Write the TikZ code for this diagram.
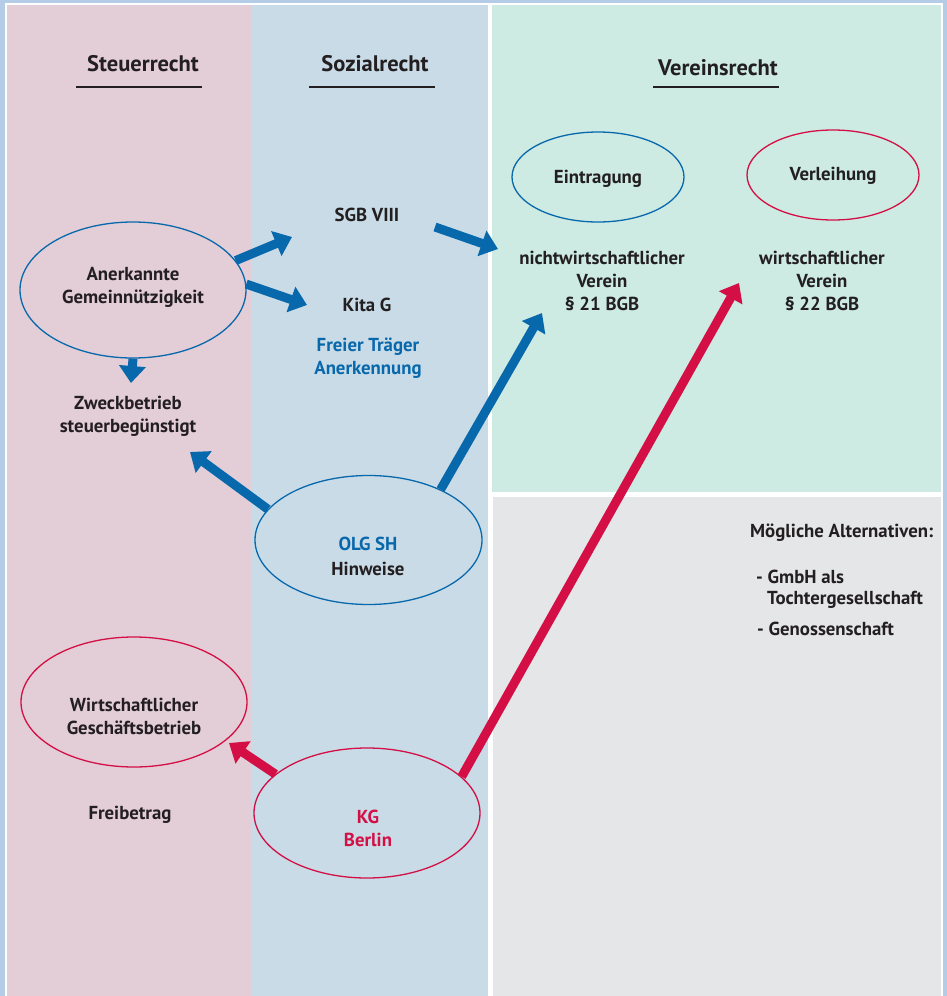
\documentclass[tikz,border=0pt]{standalone}
\usepackage{fontspec}
\setmainfont{PT Sans}
\usetikzlibrary{arrows.meta,shapes.geometric}
\definecolor{pinkbg}{HTML}{E3CDD7}
\definecolor{bluebg}{HTML}{C9DBE7}
\definecolor{greenbg}{HTML}{CDEBE3}
\definecolor{graybg}{HTML}{E5E6E8}
\definecolor{framecol}{HTML}{B5CCE6}
\definecolor{myblue}{HTML}{0868AC}
\definecolor{myred}{HTML}{D30F45}
\definecolor{ink}{HTML}{231F20}
\tikzset{
  txt/.style={font=\bfseries\fontsize{18.8}{23}\selectfont, text=ink, align=center, inner sep=0pt},
  head/.style={font=\bfseries\fontsize{22.5}{25}\selectfont, text=ink, inner sep=0pt},
  ul/.style={draw=ink, line width=1.4pt},
  ellb/.style={ellipse, draw=myblue, line width=1.3pt, inner sep=0pt},
  ellr/.style={ellipse, draw=myred, line width=1.3pt, inner sep=0pt},
  barrow/.style={draw=myblue, line width=9pt, -{Triangle[length=17pt,width=26pt]}},
  rarrow/.style={draw=myred, line width=9pt, -{Triangle[length=17pt,width=26pt]}},
}
\begin{document}
\begin{tikzpicture}[x=1pt,y=-1pt]
% background panels
\fill[framecol] (0,0) rectangle (947,996);
\fill[white] (5,3) rectangle (943,996);
\fill[pinkbg] (7,5) rectangle (251,996);
\fill[bluebg] (251,5) rectangle (487.5,996);
\fill[greenbg] (492,5) rectangle (941,492);
\fill[graybg] (493,497) rectangle (941,996);

% headings
\node[head] (hst) at (143,64) {Steuerrecht};
\draw[ul] (76,87) -- (202,87);
\node[head] (hso) at (375,64) {Sozialrecht};
\draw[ul] (309,87) -- (435,87);
\node[head] (hve) at (718,68) {Vereinsrecht};
\draw[ul] (653,87) -- (779,87);

% ellipses
\node[ellb, minimum width=226pt, minimum height=136pt] (aner) at (133,290) {};
\node[txt] (anert) at (133,287) {Anerkannte\\Gemeinnützigkeit};
\node[ellb, minimum width=172pt, minimum height=90pt] (eint) at (598,177) {};
\node[txt] (eintt) at (598,179) {Eintragung};
\node[ellr, minimum width=172pt, minimum height=90pt] (verl) at (833,175) {};
\node[txt] (verlt) at (833,176) {Verleihung};
\node[ellb, minimum width=227pt, minimum height=129pt] (olg) at (368.5,540) {};
\node[txt, font=\bfseries\fontsize{18.8}{25}\selectfont] (olgt) at (368,556) {\textcolor{myblue}{OLG SH}\\Hinweise};
\node[ellr, minimum width=226pt, minimum height=130pt] (wgb) at (134,702) {};
\node[txt] (wgbt) at (134,716) {Wirtschaftlicher\\Geschäftsbetrieb};
\node[ellr, minimum width=226pt, minimum height=130pt] (kg) at (367,813) {};
\node[txt, text=myred] (kgt) at (368,828) {KG\\Berlin};

% plain texts
\node[txt] (sgb) at (367,215) {SGB VIII};
\node[txt] (kita) at (367,305) {Kita G};
\node[txt, text=myblue] (frei) at (368,358) {Freier Träger\\Anerkennung};
\node[txt] (zweck) at (128,416) {Zweckbetrieb\\steuerbegünstigt};
\node[txt] (nicht) at (602,281) {nichtwirtschaftlicher\\Verein\\§ 21 BGB};
\node[txt] (wirt) at (822,281) {wirtschaftlicher\\Verein\\§ 22 BGB};
\node[txt] (freib) at (130,815) {Freibetrag};
\node[txt, anchor=west] (alt) at (750,533) {Mögliche Alternativen:};
\node[txt, anchor=west] (alt1) at (756,577) {- GmbH als};
\node[txt, anchor=west] (alt2) at (767,600) {Tochtergesellschaft};
\node[txt, anchor=west] (alt3) at (757,629) {- Genossenschaft};

% arrow end points
\coordinate (t1) at (292,237);
\coordinate (t2) at (307,305);
\coordinate (t3) at (131,383);
\coordinate (s4) at (435,227);
\coordinate (t4) at (498,249);
\coordinate (t5) at (190,452);
\coordinate (t6) at (542,313);
\coordinate (t7) at (229,743);
\coordinate (t8) at (739,283);

% arrows
\draw[barrow] (aner.16) -- (t1);
\draw[barrow] (aner.3) -- (t2);
\draw[barrow] (aner.south) -- (t3);
\draw[barrow] (s4) -- (t4);
\draw[barrow] (olg.163) -- (t5);
\draw[barrow] (olg.35) -- (t6);
\draw[rarrow] (kg.157) -- (t7);
\draw[rarrow] (kg.21) -- (t8);
\end{tikzpicture}
\end{document}
